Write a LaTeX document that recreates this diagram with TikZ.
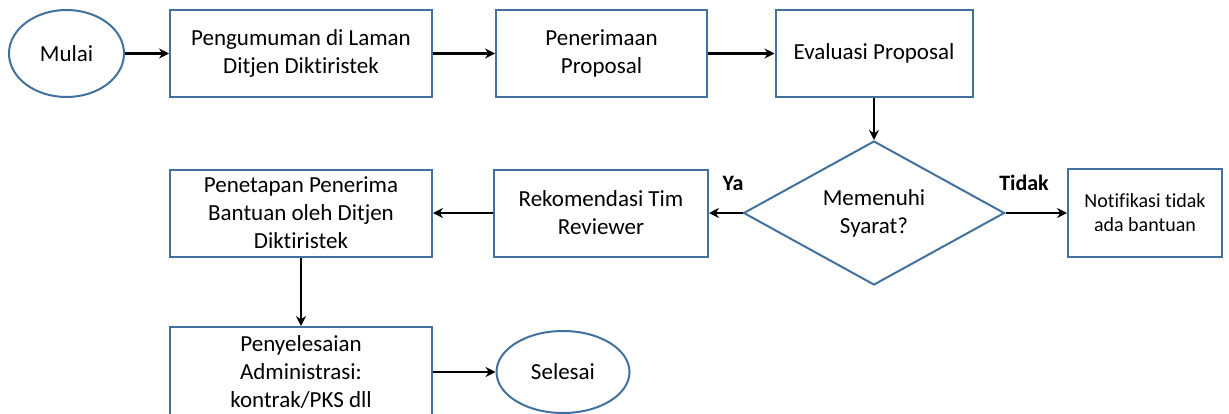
\documentclass[tikz,border=0pt]{standalone}
\usepackage{fontspec}
\setmainfont{Carlito}[Ligatures={NoCommon}]
\usetikzlibrary{shapes.geometric,arrows.meta}
\definecolor{bl}{HTML}{41719C}
\begin{document}
\begin{tikzpicture}[x=1pt,y=-1pt,
  base/.style={draw=bl, line width=2pt, fill=white, align=center, inner sep=0pt,
    font=\fontsize{23}{28}\selectfont},
  proc/.style={base, rectangle},
  term/.style={base, ellipse},
  dec/.style={base, diamond, aspect=1.8},
  arr/.style={draw=black, line width=2.2pt, -{Stealth[length=10pt,width=10pt]}},
  lbl/.style={font=\fontsize{22}{26}\selectfont\bfseries, inner sep=0pt}
]
\useasboundingbox (0,0) rectangle (1229,413);

\node[term, minimum width=115pt, minimum height=87pt] (mulai) at (66.5,53.5) {Mulai};
\node[proc, minimum width=262pt, minimum height=87pt] (b1) at (301,53.5) {Pengumuman di Laman\\Ditjen Diktiristek};
\node[proc, minimum width=211pt, minimum height=87pt] (b2) at (601.5,53.5) {Penerimaan\\Proposal};
\node[proc, minimum width=197pt, minimum height=87pt] (b3) at (874,53.5) {Evaluasi Proposal};
\node[dec, minimum width=261pt, minimum height=144pt] (dia) at (874,213) {Memenuhi\\Syarat?};
\node[proc, minimum width=154pt, minimum height=88pt, font=\fontsize{20}{24}\selectfont] (notif) at (1145,213) {Notifikasi tidak\\ada bantuan};
\node[proc, minimum width=214pt, minimum height=87pt] (rek) at (601,213) {Rekomendasi Tim\\Reviewer};
\node[proc, minimum width=262pt, minimum height=87pt] (pen) at (301,213) {Penetapan Penerima\\Bantuan oleh Ditjen\\Diktiristek};
\node[proc, minimum width=262pt, minimum height=90pt] (peny) at (301,372) {Penyelesaian\\Administrasi:\\kontrak/PKS dll};
\node[term, minimum width=133pt, minimum height=82pt] (sel) at (563,372) {Selesai};

\node[lbl] (ya) at (733,183) {Ya};
\node[lbl] (tidak) at (1024,183) {Tidak};

\draw[arr] (mulai.east) -- (b1.west);
\draw[arr] (b1.east) -- (b2.west);
\draw[arr] (b2.east) -- (b3.west);
\draw[arr] (b3.south) -- (dia.north);
\draw[arr] (dia.west) -- (rek.east);
\draw[arr] (dia.east) -- (notif.west);
\draw[arr] (rek.west) -- (pen.east);
\draw[arr] (pen.south) -- (peny.north);
\draw[arr] (peny.east) -- (sel.west);
\end{tikzpicture}
\end{document}
